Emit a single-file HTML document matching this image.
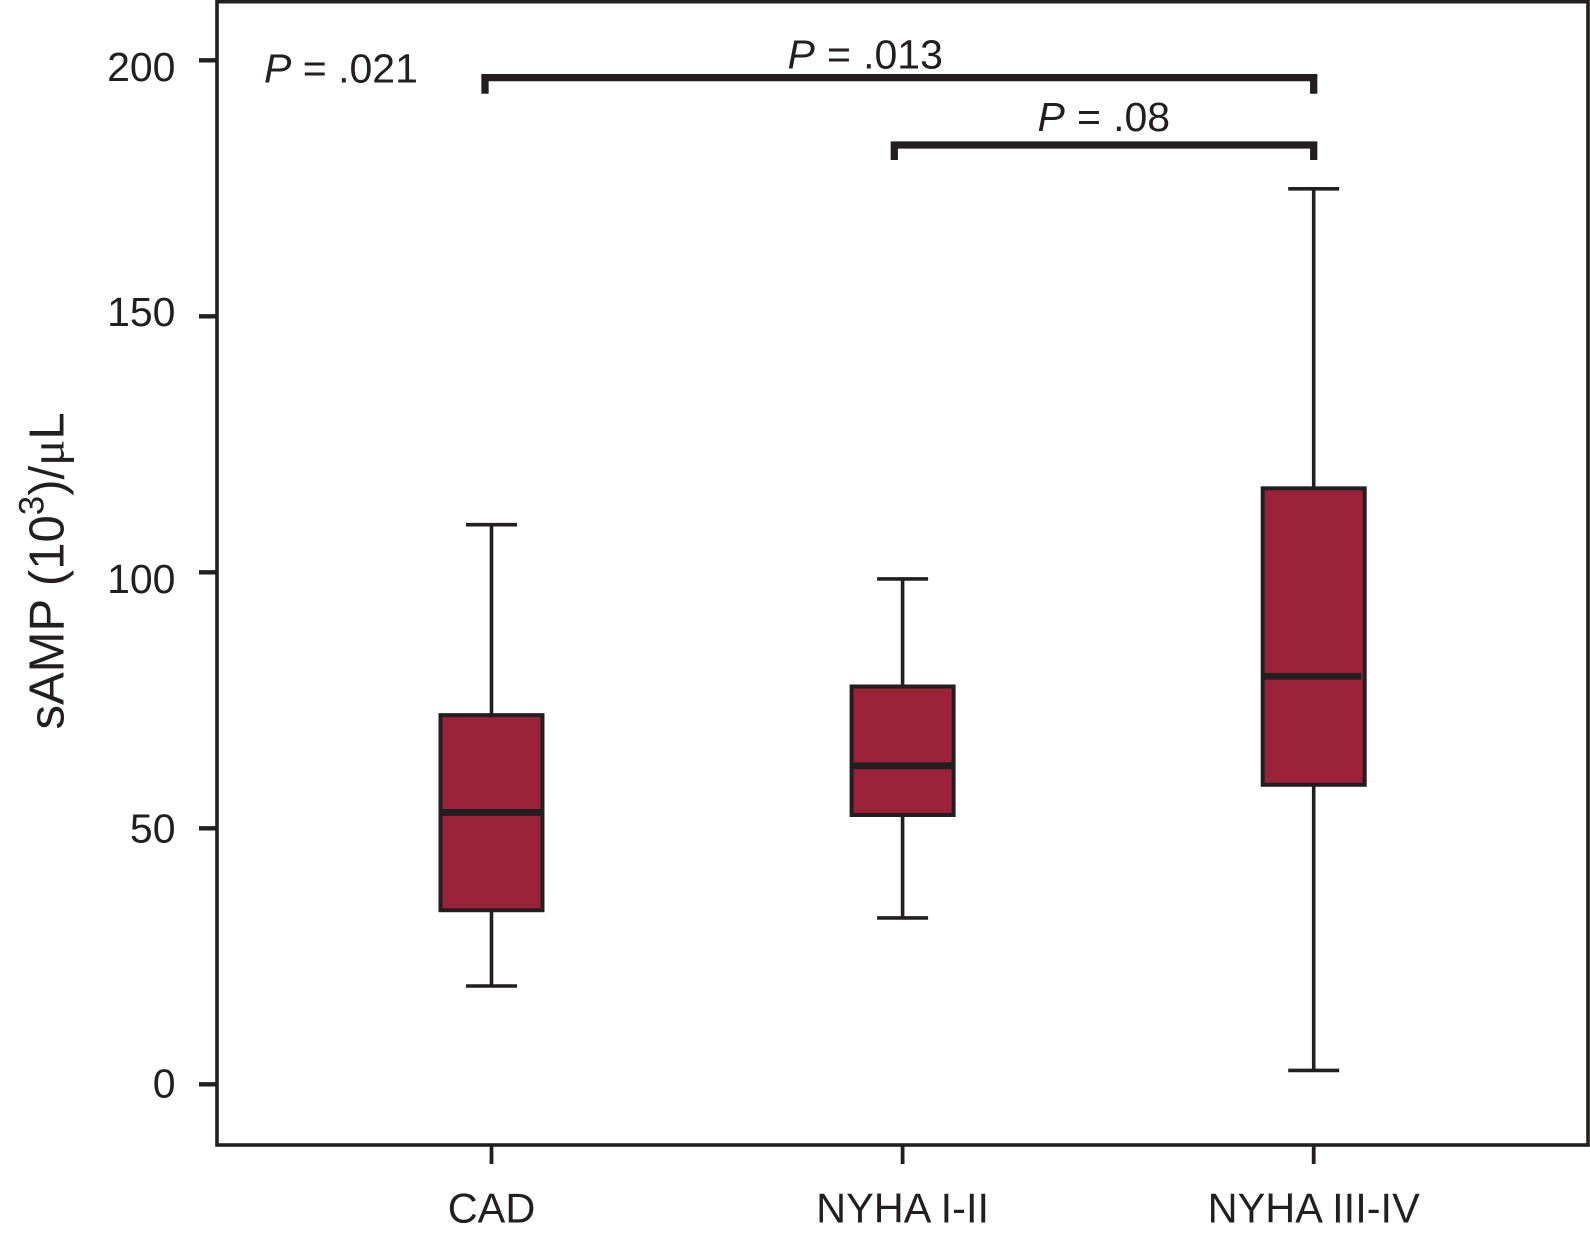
<!DOCTYPE html>
<html lang="en">
<head>
<meta charset="utf-8">
<title>sAMP box plot</title>
<style>
html,body{margin:0;padding:0;background:#fff;width:1590px;height:1237px;overflow:hidden}
svg{display:block}
text{font-family:"Liberation Sans",sans-serif;fill:#231f20}
</style>
</head>
<body>
<svg id="chart" xmlns="http://www.w3.org/2000/svg" width="1590" height="1237" viewBox="0 0 1590 1237"></svg>
<script>
const categories = ['CAD', 'NYHA I-II', 'NYHA III-IV'];
const whiskerHigh = [109.3, 98.7, 174.9];
const quartile3 = [72.1, 77.7, 116.4];
const medians = [53.1, 62.2, 79.7];
const quartile1 = [34, 52.6, 58.5];
const whiskerLow = [19.2, 32.5, 2.7];
const yTicks = [0, 50, 100, 150, 200];

const INK = '#231f20';
const BOX = '#9b2339';
const svg = document.getElementById('chart');
const NS = 'http://www.w3.org/2000/svg';
const yScale = v => 1084.3 - 5.12 * v;
const xScale = i => 491.5 + 411.1 * i;
const labelDrop = v => ({200: 20.7, 150: 9.7, 100: 20.7, 50: 14.4, 0: 13.4})[v] ?? 16;
const medianShift = i => (i === 2 ? -2.5 : 0);

function add(tag, attrs, parent) {
  const el = document.createElementNS(NS, tag);
  for (const k in attrs) el.setAttribute(k, attrs[k]);
  (parent || svg).appendChild(el);
  return el;
}

const frame = add('rect', {x: 217, y: 1.7, width: 1371, height: 1143.3, fill: 'none', stroke: INK, 'stroke-width': 3.6});



yTicks.forEach(v => {
  const t = add('line', {x1: 199, x2: 217, y1: yScale(v), y2: yScale(v), stroke: INK, 'stroke-width': 4.4});
  
  
  const l = add('text', {x: 175.5, y: yScale(v) + labelDrop(v), 'text-anchor': 'end', 'font-size': 41});
  l.textContent = v;
  
  
});

categories.forEach((c, i) => {
  const x = xScale(i);
  const t = add('line', {x1: x, x2: x, y1: 1145, y2: 1164, stroke: INK, 'stroke-width': 3.8});
  
  
  const l = add('text', {x: x, y: 1222.7, 'text-anchor': 'middle', 'font-size': 41.5});
  l.textContent = c;
  
  

  const g = add('g', {});
  
  
  const w = add('line', {x1: x, x2: x, y1: yScale(whiskerHigh[i]), y2: yScale(whiskerLow[i]), stroke: INK, 'stroke-width': 3.6}, g);
  
  
  [whiskerHigh[i], whiskerLow[i]].forEach((v, j) => {
    const cap = add('line', {x1: x - 25.5, x2: x + 25.5, y1: yScale(v), y2: yScale(v), stroke: INK, 'stroke-width': 3.6}, g);
    
    
  });
  const b = add('rect', {x: x - 51, y: yScale(quartile3[i]), width: 102, height: yScale(quartile1[i]) - yScale(quartile3[i]), fill: BOX, stroke: INK, 'stroke-width': 4}, g);
  
  
  const m = add('line', {x1: x - 50 + medianShift(i), x2: x + 50 + medianShift(i), y1: yScale(medians[i]), y2: yScale(medians[i]), stroke: INK, 'stroke-width': 6.8}, g);
  
  
});
</script>
<script>
(function () {
  const s = document.getElementById('chart');
  const NS2 = 'http://www.w3.org/2000/svg';
  const ink = '#231f20';

  function bracket(name, x1, x2, y, bottom) {
    const p = document.createElementNS(NS2, 'path');
    p.setAttribute('d', 'M' + x1 + ' ' + bottom + 'V' + y + 'H' + x2 + 'V' + bottom);
    p.setAttribute('fill', 'none');
    p.setAttribute('stroke', ink);
    p.setAttribute('stroke-width', '7.3');
    p.setAttribute('stroke-linejoin', 'miter');
    
    
    s.appendChild(p);
  }
  bracket('bracket-cad-to-nyha-iii-iv', 485, 1313.7, 77.6, 93.7);
  bracket('bracket-nyha-i-ii-to-nyha-iii-iv', 894.3, 1313.7, 145, 160);

  function pLabel(name, x, y, rest, spacing) {
    const t = document.createElementNS(NS2, 'text');
    t.setAttribute('x', x);
    t.setAttribute('y', y);
    t.setAttribute('font-size', '41');
    t.setAttribute('word-spacing', spacing);
    t.setAttribute('xml:space', 'preserve');
    
    
    const i = document.createElementNS(NS2, 'tspan');
    i.setAttribute('font-style', 'italic');
    i.textContent = 'P';
    t.appendChild(i);
    t.appendChild(document.createTextNode(rest));
    s.appendChild(t);
  }
  pLabel('p-value-overall', 264, 82.7, ' = .021', 0);
  pLabel('p-value-cad-vs-nyha-iii-iv', 787.5, 68.5, ' = .013', 0.75);
  pLabel('p-value-nyha-i-ii-vs-nyha-iii-iv', 1037.5, 131, ' = .08', 0.75);

  const title = document.createElementNS(NS2, 'text');
  title.setAttribute('transform', 'translate(63.3 729.5) rotate(-90)');
  title.setAttribute('font-size', '49');
  
  
  title.appendChild(document.createTextNode('sAMP (10'));
  const sup = document.createElementNS(NS2, 'tspan');
  sup.setAttribute('font-size', '35');
  sup.setAttribute('dy', '-20');
  sup.textContent = '3';
  title.appendChild(sup);
  const close = document.createElementNS(NS2, 'tspan');
  close.setAttribute('dy', '20');
  close.textContent = ')/';
  title.appendChild(close);
  const mu = document.createElementNS(NS2, 'tspan');
  mu.setAttribute('style', 'font-family:"Liberation Serif",serif');
  mu.textContent = 'μ';
  title.appendChild(mu);
  title.appendChild(document.createTextNode('L'));
  s.appendChild(title);
})();
</script>
</body>
</html>
